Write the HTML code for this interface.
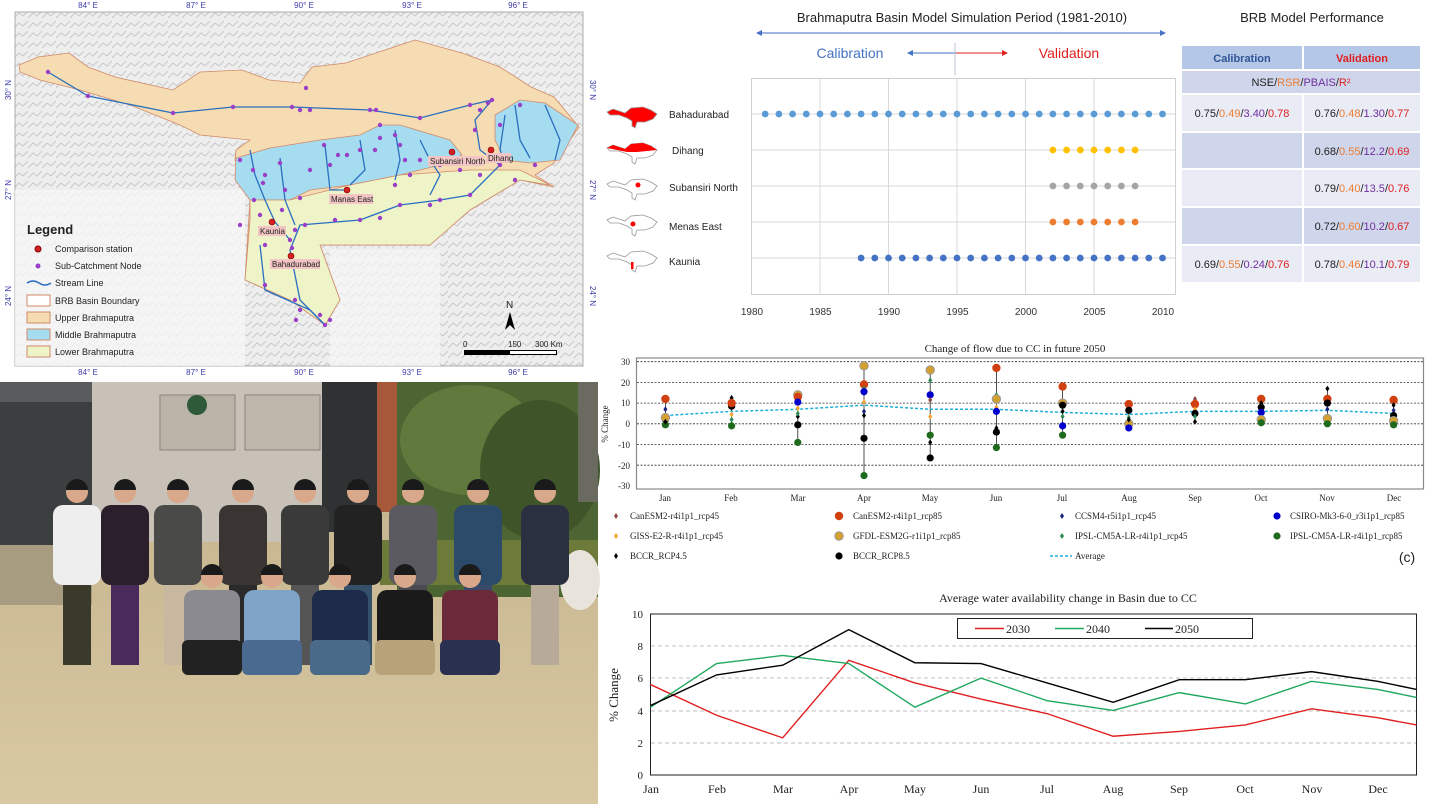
<!DOCTYPE html>
<html><head><meta charset="utf-8"><style>
html,body{margin:0;padding:0;background:#fff}
svg{display:block}
.c{font-family:"Liberation Sans",sans-serif}
.s{font-family:"Liberation Serif",serif}
</style></head><body>
<svg id="S" width="1430" height="804" viewBox="0 0 1430 804" xmlns="http://www.w3.org/2000/svg">
<defs>
<pattern id="hill" width="14" height="10" patternUnits="userSpaceOnUse">
<rect width="14" height="10" fill="#eeeeee"/>
<path d="M0 8 L5 3 L9 6 L14 1" stroke="#c8c8c8" stroke-width="1" fill="none"/>
</pattern>
<linearGradient id="gnd" x1="0" y1="0" x2="0" y2="1"><stop offset="0" stop-color="#bfae88"/><stop offset="1" stop-color="#d9c9a3"/></linearGradient>
</defs>

<!-- ============ MAP ============ -->
<rect x="0" y="0" width="598" height="378" fill="#fff"/>
<rect x="15" y="12" width="568" height="354" fill="url(#hill)" stroke="#999" stroke-width="0.8"/>
<rect x="15" y="190" width="230" height="176" fill="#f6f6f6" opacity="0.8"/>
<rect x="330" y="250" width="110" height="116" fill="#f6f6f6" opacity="0.7"/>
<polygon fill="#f6dcb2" stroke="#d08a6a" stroke-width="0.8" points="19,65 38,57 69,53 88,67 115,77 173,90 200,72 242,70 269,80 300,83 312,67 346,63 415,40 462,53 500,67 531,87 554,97 579,127 554,163 535,175 554,187 520,180 470,210 430,245 320,245 340,300 325,325 320,320 290,300 245,280 250,200 235,160 236,150 250,140 200,135 180,125 130,105 80,90 40,80 20,72"/>
<polygon fill="#a6dcf0" stroke="#d08a6a" stroke-width="0.8" points="236,158 270,148 320,140 360,135 380,125 400,125 450,140 462,155 440,165 400,175 350,185 310,190 290,200 250,200 235,180"/>
<polygon fill="#a6dcf0" stroke="#d08a6a" stroke-width="0.8" points="495,115 520,100 545,103 578,125 560,160 530,163 505,160 495,140"/>
<polygon fill="#eef4c8" stroke="#d08a6a" stroke-width="0.8" points="250,200 290,200 350,185 400,175 470,170 520,170 550,185 520,180 470,210 430,245 320,245 340,300 325,325 290,300 245,280 250,220"/>
<g fill="none" stroke="#2a6fc0" stroke-width="1.3">
<polyline points="48,72 88,96 173,113 233,107 292,107 370,110 420,118 470,105 492,100 475,120 480,150 500,165 470,195 440,200 400,205 360,220 300,225 290,250 300,300 325,325"/>
<polyline points="250,150 255,175 265,200 275,222 290,240"/>
<polyline points="280,158 285,200 295,225"/>
<polyline points="325,145 330,190 348,190"/>
<polyline points="360,140 365,170 350,185"/>
<polyline points="420,140 430,160 440,175 430,195"/>
<polyline points="515,105 520,140 530,158"/>
<polyline points="545,105 560,140 555,160"/>
<polyline points="505,115 500,150 505,162"/>
<polyline points="260,245 265,290 310,310 325,325"/>
<polyline points="395,130 400,160 395,180"/>
</g>
<g fill="#9a3fc8" id="nodes"></g>
<g fill="#d42020" stroke="#800" stroke-width="0.6">
<circle cx="452" cy="152" r="3"/><circle cx="491" cy="150" r="3"/><circle cx="347" cy="190" r="3"/><circle cx="272" cy="222" r="3"/><circle cx="291" cy="256" r="3"/>
</g>
<g class="c" font-size="8" fill="#222">
<rect x="428" y="156" width="56" height="10" fill="#f2c4c4"/><text x="430" y="164">Subansiri North</text>
<rect x="486" y="153" width="25" height="10" fill="#f2c4c4"/><text x="488" y="161">Dihang</text>
<rect x="329" y="194" width="44" height="10" fill="#f2c4c4"/><text x="331" y="202">Manas East</text>
<rect x="258" y="226" width="28" height="10" fill="#f2c4c4"/><text x="260" y="234">Kaunia</text>
<rect x="270" y="259" width="50" height="10" fill="#f2c4c4"/><text x="272" y="267">Bahadurabad</text>
</g>
<!-- map ticks -->
<g class="c" font-size="8" fill="#3a3aa8" text-anchor="middle">
<text x="88" y="8">84° E</text><text x="196" y="8">87° E</text><text x="304" y="8">90° E</text><text x="412" y="8">93° E</text><text x="518" y="8">96° E</text>
<text x="88" y="375">84° E</text><text x="196" y="375">87° E</text><text x="304" y="375">90° E</text><text x="412" y="375">93° E</text><text x="518" y="375">96° E</text>
<text transform="translate(11,90) rotate(-90)">30° N</text><text transform="translate(11,190) rotate(-90)">27° N</text><text transform="translate(11,296) rotate(-90)">24° N</text>
<text transform="translate(590,90) rotate(90)">30° N</text><text transform="translate(590,190) rotate(90)">27° N</text><text transform="translate(590,296) rotate(90)">24° N</text>
</g>
<!-- legend -->
<g class="c" font-size="9" fill="#222">
<text x="27" y="234" font-size="13" font-weight="bold">Legend</text>
<circle cx="38" cy="249" r="3" fill="#d42020" stroke="#800"/><text x="55" y="252">Comparison station</text>
<circle cx="38" cy="266" r="2.5" fill="#9a3fc8"/><text x="55" y="269">Sub-Catchment Node</text>
<path d="M27 283 q6 -4 12 0 t12 0" stroke="#2a6fc0" stroke-width="1.5" fill="none"/><text x="55" y="286">Stream Line</text>
<rect x="27" y="295" width="23" height="11" fill="#fff" stroke="#d08a6a"/><text x="55" y="304">BRB Basin Boundary</text>
<rect x="27" y="312" width="23" height="11" fill="#f6dcb2" stroke="#d08a6a"/><text x="55" y="321">Upper Brahmaputra</text>
<rect x="27" y="329" width="23" height="11" fill="#a6dcf0" stroke="#d08a6a"/><text x="55" y="338">Middle Brahmaputra</text>
<rect x="27" y="346" width="23" height="11" fill="#eef4c8" stroke="#d08a6a"/><text x="55" y="355">Lower Brahmaputra</text>
</g>
<g class="c" font-size="8" fill="#222">
<text x="506" y="308" font-size="10">N</text>
<polygon points="510,312 505,330 510,325 515,330" fill="#000"/>
<text x="463" y="347">0</text><text x="508" y="347">150</text><text x="535" y="347">300 Km</text>
<rect x="464" y="350" width="93" height="5" fill="#000"/><rect x="510" y="351" width="46" height="3" fill="#fff"/>
</g>

<!-- ============ PHOTO ============ -->
<rect x="0" y="382" width="598" height="422" fill="url(#gnd)"/>
<rect x="0" y="382" width="92" height="165" fill="#3b3f40"/>
<rect x="0" y="382" width="92" height="20" fill="#585c5c"/>
<rect x="92" y="382" width="230" height="160" fill="#c7c1b7"/>
<rect x="160" y="395" width="75" height="55" fill="#b9b3a8" stroke="#8a857d"/>
<circle cx="197" cy="405" r="10" fill="#2e5a3a"/>
<rect x="245" y="395" width="75" height="55" fill="#bdb7ac" stroke="#8a857d"/>
<rect x="322" y="382" width="55" height="150" fill="#2e3232"/>
<rect x="377" y="382" width="20" height="130" fill="#a8583a"/>
<rect x="397" y="382" width="201" height="215" fill="#4d6532"/>
<ellipse cx="470" cy="440" rx="70" ry="55" fill="#5f7a3c"/>
<ellipse cx="540" cy="470" rx="60" ry="70" fill="#3f5529"/>
<rect x="578" y="382" width="20" height="120" fill="#6a6a60"/>
<rect x="380" y="540" width="218" height="45" fill="#6c7a3a"/>
<ellipse cx="580" cy="580" rx="20" ry="30" fill="#e8e4dc"/>
<rect x="0" y="545" width="92" height="60" fill="#a89c80"/>
<g id="people"></g>

<!-- ============ SIMULATION CHART ============ -->
<g class="c">
<text x="962" y="22" font-size="13" text-anchor="middle" fill="#222">Brahmaputra Basin Model Simulation Period (1981-2010)</text>
<text x="1312" y="22" font-size="13" text-anchor="middle" fill="#222">BRB Model Performance</text>
<line x1="760" y1="33" x2="1163" y2="33" stroke="#4472c4" stroke-width="1"/>
<polygon points="756,33 762,30 762,36" fill="#4472c4"/><polygon points="1166,33 1160,30 1160,36" fill="#4472c4"/>
<text x="850" y="58" font-size="14" text-anchor="middle" fill="#4472c4">Calibration</text>
<text x="1069" y="58" font-size="14" text-anchor="middle" fill="#e02020">Validation</text>
<line x1="910" y1="53" x2="955" y2="53" stroke="#4472c4"/><polygon points="907,53 913,50 913,56" fill="#4472c4"/>
<line x1="955" y1="53" x2="1004" y2="53" stroke="#e02020"/><polygon points="1008,53 1002,50 1002,56" fill="#e02020"/>
<line x1="955" y1="43" x2="955" y2="75" stroke="#b8c4d8"/>
<g id="simgrid" stroke="#d9d9d9" stroke-width="1"></g>
<rect x="751.5" y="78.5" width="424" height="216" fill="none" stroke="#d0d0d0"/>
<g font-size="10" fill="#333" text-anchor="middle">
<text x="752" y="315">1980</text><text x="820.5" y="315">1985</text><text x="889" y="315">1990</text><text x="957.5" y="315">1995</text><text x="1026" y="315">2000</text><text x="1094.5" y="315">2005</text><text x="1163" y="315">2010</text>
</g>
<g font-size="10" fill="#222">
<text x="669" y="118">Bahadurabad</text><text x="672" y="154">Dihang</text><text x="669" y="191">Subansiri North</text><text x="669" y="230">Menas East</text><text x="669" y="265">Kaunia</text>
</g>
<g id="icons"></g>
<g id="simdots"></g>
<!-- table -->
<rect x="1182" y="46" width="120" height="23" fill="#b4c7e7"/><rect x="1304" y="46" width="116" height="23" fill="#b4c7e7"/>
<rect x="1182" y="71" width="238" height="22" fill="#cfd5ea"/>
<rect x="1182" y="95" width="120" height="36" fill="#e9ebf5"/><rect x="1304" y="95" width="116" height="36" fill="#e9ebf5"/>
<rect x="1182" y="133" width="120" height="35" fill="#cfd5ea"/><rect x="1304" y="133" width="116" height="35" fill="#cfd5ea"/>
<rect x="1182" y="170" width="120" height="36" fill="#e9ebf5"/><rect x="1304" y="170" width="116" height="36" fill="#e9ebf5"/>
<rect x="1182" y="208" width="120" height="36" fill="#cfd5ea"/><rect x="1304" y="208" width="116" height="36" fill="#cfd5ea"/>
<rect x="1182" y="246" width="120" height="36" fill="#e9ebf5"/><rect x="1304" y="246" width="116" height="36" fill="#e9ebf5"/>
<text x="1242" y="62" font-size="11" font-weight="bold" text-anchor="middle" fill="#2f5597">Calibration</text>
<text x="1362" y="62" font-size="11" font-weight="bold" text-anchor="middle" fill="#e02020">Validation</text>
<text x="1301" y="86" font-size="11" text-anchor="middle" fill="#222">NSE/<tspan fill="#ed7d31">RSR</tspan>/<tspan fill="#7030a0">PBAIS</tspan>/<tspan fill="#e02020">R²</tspan></text>
<g font-size="11" text-anchor="middle" fill="#222">
<text x="1242" y="117">0.75/<tspan fill="#ed7d31">0.49</tspan>/<tspan fill="#7030a0">3.40</tspan>/<tspan fill="#e02020">0.78</tspan></text>
<text x="1362" y="117">0.76/<tspan fill="#ed7d31">0.48</tspan>/<tspan fill="#7030a0">1.30</tspan>/<tspan fill="#e02020">0.77</tspan></text>
<text x="1362" y="155">0.68/<tspan fill="#ed7d31">0.55</tspan>/<tspan fill="#7030a0">12.2</tspan>/<tspan fill="#e02020">0.69</tspan></text>
<text x="1362" y="192">0.79/<tspan fill="#ed7d31">0.40</tspan>/<tspan fill="#7030a0">13.5</tspan>/<tspan fill="#e02020">0.76</tspan></text>
<text x="1362" y="230">0.72/<tspan fill="#ed7d31">0.60</tspan>/<tspan fill="#7030a0">10.2</tspan>/<tspan fill="#e02020">0.67</tspan></text>
<text x="1242" y="268">0.69/<tspan fill="#ed7d31">0.55</tspan>/<tspan fill="#7030a0">0.24</tspan>/<tspan fill="#e02020">0.76</tspan></text>
<text x="1362" y="268">0.78/<tspan fill="#ed7d31">0.46</tspan>/<tspan fill="#7030a0">10.1</tspan>/<tspan fill="#e02020">0.79</tspan></text>
</g>
</g>

<!-- ============ CHANGE OF FLOW CHART ============ -->
<g class="s">
<text x="1015" y="352" font-size="11" text-anchor="middle" fill="#222">Change of  flow due to CC in future 2050</text>
<rect x="636.5" y="358" width="787" height="131" fill="none" stroke="#888" stroke-width="1.2"/>
<g id="fgrid"></g>
<g font-size="9" fill="#222" text-anchor="end">
<text x="630" y="365">30</text><text x="630" y="386">20</text><text x="630" y="406">10</text><text x="630" y="427">0</text><text x="630" y="448">-10</text><text x="630" y="469">-20</text><text x="630" y="489">-30</text>
</g>
<text transform="translate(608,424) rotate(-90)" font-size="9" text-anchor="middle" fill="#222">% Change</text>
<g font-size="9" fill="#222" text-anchor="middle">
<text x="665" y="501">Jan</text><text x="731" y="501">Feb</text><text x="798" y="501">Mar</text><text x="864" y="501">Apr</text><text x="930" y="501">May</text><text x="996" y="501">Jun</text><text x="1062" y="501">Jul</text><text x="1129" y="501">Aug</text><text x="1195" y="501">Sep</text><text x="1261" y="501">Oct</text><text x="1327" y="501">Nov</text><text x="1394" y="501">Dec</text>
</g>
<g id="fdots"></g>
<g font-size="9" fill="#222">
<text x="630" y="519">CanESM2-r4i1p1_rcp45</text><text x="853" y="519">CanESM2-r4i1p1_rcp85</text><text x="1075" y="519">CCSM4-r5i1p1_rcp45</text><text x="1290" y="519">CSIRO-Mk3-6-0_r3i1p1_rcp85</text>
<text x="630" y="539">GISS-E2-R-r4i1p1_rcp45</text><text x="853" y="539">GFDL-ESM2G-r1i1p1_rcp85</text><text x="1075" y="539">IPSL-CM5A-LR-r4i1p1_rcp45</text><text x="1290" y="539">IPSL-CM5A-LR-r4i1p1_rcp85</text>
<text x="630" y="559">BCCR_RCP4.5</text><text x="853" y="559">BCCR_RCP8.5</text><text x="1075" y="559">Average</text>
</g>
<line x1="1050" y1="556" x2="1072" y2="556" stroke="#1fb0d8" stroke-width="1.5" stroke-dasharray="3,2"/>
<text x="1407" y="562" font-size="14" font-family="Liberation Sans" fill="#222" text-anchor="middle">(c)</text>
</g>

<!-- ============ WATER AVAILABILITY CHART ============ -->
<g class="s">
<text x="1068" y="602" font-size="12" text-anchor="middle" fill="#222">Average water availability  change in Basin due to CC</text>
<g stroke="#aaa" stroke-dasharray="4,3" stroke-width="0.8">
<line x1="651" y1="743" x2="1417" y2="743"/><line x1="651" y1="711" x2="1417" y2="711"/><line x1="651" y1="678" x2="1417" y2="678"/><line x1="651" y1="646" x2="1417" y2="646"/>
</g>
<rect x="650.5" y="614" width="766" height="161" fill="none" stroke="#222" stroke-width="1"/>
<g font-size="11" fill="#222" text-anchor="end">
<text x="643" y="779">0</text><text x="643" y="747">2</text><text x="643" y="715">4</text><text x="643" y="682">6</text><text x="643" y="650">8</text><text x="643" y="618">10</text>
</g>
<text transform="translate(618,695) rotate(-90)" font-size="13" text-anchor="middle" fill="#222">% Change</text>
<g font-size="12" fill="#222" text-anchor="middle">
<text x="651" y="793">Jan</text><text x="717" y="793">Feb</text><text x="783" y="793">Mar</text><text x="849" y="793">Apr</text><text x="915" y="793">May</text><text x="981" y="793">Jun</text><text x="1047" y="793">Jul</text><text x="1113" y="793">Aug</text><text x="1179" y="793">Sep</text><text x="1245" y="793">Oct</text><text x="1312" y="793">Nov</text><text x="1378" y="793">Dec</text>
</g>
<g id="wlines" fill="none" stroke-width="1.4"></g>
<rect x="957.5" y="618.5" width="295" height="20" fill="#fff" stroke="#222"/>
<line x1="975" y1="628.5" x2="1004" y2="628.5" stroke="#e02020" stroke-width="1.4"/><text x="1006" y="633" font-size="12" fill="#222">2030</text>
<line x1="1055" y1="628.5" x2="1084" y2="628.5" stroke="#20a860" stroke-width="1.4"/><text x="1086" y="633" font-size="12" fill="#222">2040</text>
<line x1="1145" y1="628.5" x2="1173" y2="628.5" stroke="#000" stroke-width="1.4"/><text x="1175" y="633" font-size="12" fill="#222">2050</text>
</g>
</svg>
<script>
var NS="http://www.w3.org/2000/svg";
function el(p,t,a){var e=document.createElementNS(NS,t);for(var k in a)e.setAttribute(k,a[k]);p.appendChild(e);return e;}
function g(id){return document.getElementById(id);}
var nd=[[48,72],[88,96],[173,113],[233,107],[292,107],[300,110],[310,110],[370,110],[376,110],[420,118],[470,105],[492,100],[488,103],[306,88],[480,110],[475,130],[380,125],[380,138],[240,160],[253,170],[265,175],[280,163],[285,190],[300,198],[324,145],[330,165],[338,155],[347,155],[360,150],[375,150],[395,135],[400,145],[405,160],[410,175],[420,160],[440,165],[460,170],[480,175],[500,165],[515,180],[470,195],[440,200],[430,205],[400,205],[380,218],[360,220],[335,220],[305,225],[295,230],[290,240],[265,245],[265,285],[295,300],[300,310],[296,320],[325,325],[320,315],[330,320],[292,248],[254,200],[260,215],[282,210],[240,225],[263,183],[310,170],[395,185],[520,105],[500,125],[535,165]];
nd.forEach(function(p){el(g("nodes"),"circle",{cx:p[0],cy:p[1],r:2.2});});
for(var y=1985;y<=2005;y+=5){var x=751.5+(y-1980)*13.7;el(g("simgrid"),"line",{x1:x,y1:79,x2:x,y2:294});}
var rows=[114,150,186,222,258];
rows.forEach(function(r){el(g("simgrid"),"line",{x1:752,y1:r,x2:1175,y2:r});});
function dots(a,b,row,col){for(var y=a;y<=b;y++)el(g("simdots"),"circle",{cx:751.5+(y-1980)*13.7,cy:row,r:3.4,fill:col});}
dots(1981,2010,114,"#5b9bd5");dots(2002,2008,150,"#ffc000");dots(2002,2008,186,"#a5a5a5");dots(2002,2008,222,"#ed7d31");dots(1988,2010,258,"#4472c4");
var shp="M0 0 L6 -3 L12 -1 L18 1 L24 -4 L36 -5 L44 -2 L50 2 L46 7 L38 10 L30 10 L28 16 L25 14 L25 9 L20 6 L12 3 L3 3 Z";
rows.forEach(function(r,i){var gg=el(g("icons"),"g",{transform:"translate(607,"+(r-2)+")"});
el(gg,"path",{d:shp,fill:i==0?"#f00":"#fff",stroke:"#999","stroke-width":0.8});
if(i==1)el(gg,"path",{d:"M0 0 L6 -3 L12 -1 L18 1 L24 -4 L36 -5 L44 -2 L50 2 L40 3 L30 4 L20 4 L10 2 Z",fill:"#f00"});
if(i==2)el(gg,"circle",{cx:31,cy:1,r:2.5,fill:"#f00"});
if(i==3)el(gg,"circle",{cx:26,cy:4,r:2.5,fill:"#f00"});
if(i==4)el(gg,"rect",{x:24,y:6,width:2.5,height:7,fill:"#f00"});});
var fy=function(v){return 423.8-v*2.07;};
[30,20,10,0,-10,-20].forEach(function(v){el(g("fgrid"),"line",{x1:637,y1:fy(v),x2:1423,y2:fy(v),stroke:"#333","stroke-width":0.8,"stroke-dasharray":"2,1.5"});});
var mx=function(i){return 665.4+i*66.2;};
var S={c45:["#8b4a4a","d"],c85:["#d04010","c"],cc:["#1a237e","d"],cs:["#0000cc","c"],gi:["#f5a030","d"],gf:["#d4a030","c"],i45:["#2e8b57","d"],i85:["#1e6b1e","c"],b45:["#000","d"],b85:["#000","c"]};
var D=[
{c85:12,cc:7,b85:2,gf:3,i85:-0.5,b45:1},
{c45:11,b45:12.5,b85:8.5,gi:4.5,i45:2,i85:-1,c85:10},
{gf:14,c85:13,cs:10.5,gi:7.5,b45:3.5,b85:-0.5,i85:-9,i45:5},
{gf:28,c45:20,c85:19,i45:17,cs:15.5,gi:10.5,cc:6,b45:4,b85:-7,i85:-25},
{gf:26,i45:21,cs:14,c45:11.5,gi:3.5,i85:-5.5,b45:-9,b85:-16.5},
{c85:27,i45:14,gf:12,gi:8,cs:6,b45:-2,b85:-4,i85:-11.5},
{c85:18,gf:10,b85:9,b45:6,i45:3.5,cs:-1,i85:-5.5},
{c85:9.5,b85:6.5,i45:3,gf:0,cs:-2,b45:2},
{c45:12,c85:9.5,gi:7,b85:5,i45:3.5,b45:1},
{c85:12,b85:8,cs:5.5,gf:2,i85:0.5,b45:10},
{b45:17,c85:12,b85:10,cc:7,gf:2.5,i85:0},
{c85:11.5,b45:9,cc:6.5,b85:4,gf:1.5,i85:-0.5}];
function mark(p,x,y,k){var s=S[k];if(s[1]=="c")el(p,"circle",{cx:x,cy:y,r:k=="c85"||k=="gf"?4.2:3.6,fill:s[0],stroke:k=="gf"?"#999":"none"});else el(p,"path",{d:"M"+x+" "+(y-3)+" L"+(x+2)+" "+y+" L"+x+" "+(y+3)+" L"+(x-2)+" "+y+"Z",fill:s[0]});}
var fd=g("fdots");
D.forEach(function(d,i){var vs=Object.keys(d).map(function(k){return d[k];});var mn=Math.min.apply(0,vs),mxv=Math.max.apply(0,vs);
el(fd,"line",{x1:mx(i),y1:fy(mxv),x2:mx(i),y2:fy(mn),stroke:"#222","stroke-width":0.8});});
var avg=[4,6,7,9,7,7,5.5,4.5,6,6,6.5,5];
el(fd,"polyline",{points:avg.map(function(v,i){return mx(i)+","+fy(v);}).join(" "),fill:"none",stroke:"#1fb0d8","stroke-width":1.5,"stroke-dasharray":"3,2"});
D.forEach(function(d,i){Object.keys(d).forEach(function(k){mark(fd,mx(i),fy(d[k]),k);});});
var lg=[["c45",616,516],["c85",839,516],["cc",1062,516],["cs",1277,516],["gi",616,536],["gf",839,536],["i45",1062,536],["i85",1277,536],["b45",616,556],["b85",839,556]];
lg.forEach(function(l){mark(fd,l[1],l[2],l[0]);});
var wy=function(v){return 775-v*16.15;};var wx=function(i){return i<12?650.5+i*66.1:1416.5;};
var W=[["#e02020",[5.6,3.7,2.3,7.1,5.7,4.7,3.8,2.4,2.7,3.1,4.1,3.55,3.1]],["#20a860",[4.2,6.9,7.4,6.9,4.2,6.0,4.6,4.0,5.1,4.4,5.8,5.3,4.8]],["#000",[4.3,6.2,6.8,9.0,6.95,6.9,5.7,4.5,5.9,5.9,6.4,5.8,5.3]]];
W.forEach(function(w){el(g("wlines"),"polyline",{points:w[1].map(function(v,i){return wx(i)+","+wy(v);}).join(" "),stroke:w[0]});});
var P=g("people");
var st=[[77,"#eeeeee","#3a3a2a"],[125,"#2a1f2a","#4a2a5a"],[178,"#4a4a48","#c8b8a0"],[243,"#3a3432","#2a2a2a"],[305,"#3a3a3a","#555"],[358,"#222","#35506a"],[413,"#5a5a60","#4a4a50"],[478,"#2c4a6a","#3a4a6a"],[545,"#2a3040","#b8aa98"]];
st.forEach(function(p){var x=p[0];el(P,"rect",{x:x-24,y:505,width:48,height:80,rx:10,fill:p[1]});el(P,"rect",{x:x-14,y:585,width:28,height:80,fill:p[2]});el(P,"circle",{cx:x,cy:492,r:11,fill:"#d9a88a"});el(P,"path",{d:"M"+(x-11)+" 490 a11 11 0 0 1 22 0 z",fill:"#1a1a1a"});});
var kn=[[212,"#8a8a90","#222"],[272,"#7fa4c8","#4a6a90"],[340,"#1e2a4a","#4a6a8a"],[405,"#1a1a1a","#b8a27a"],[470,"#6a2a3a","#2a3050"]];
kn.forEach(function(p){var x=p[0];el(P,"rect",{x:x-28,y:590,width:56,height:60,rx:10,fill:p[1]});el(P,"rect",{x:x-30,y:640,width:60,height:35,rx:6,fill:p[2]});el(P,"circle",{cx:x,cy:577,r:11,fill:"#d9a88a"});el(P,"path",{d:"M"+(x-11)+" 575 a11 11 0 0 1 22 0 z",fill:"#1a1a1a"});});
</script>
</body></html>
